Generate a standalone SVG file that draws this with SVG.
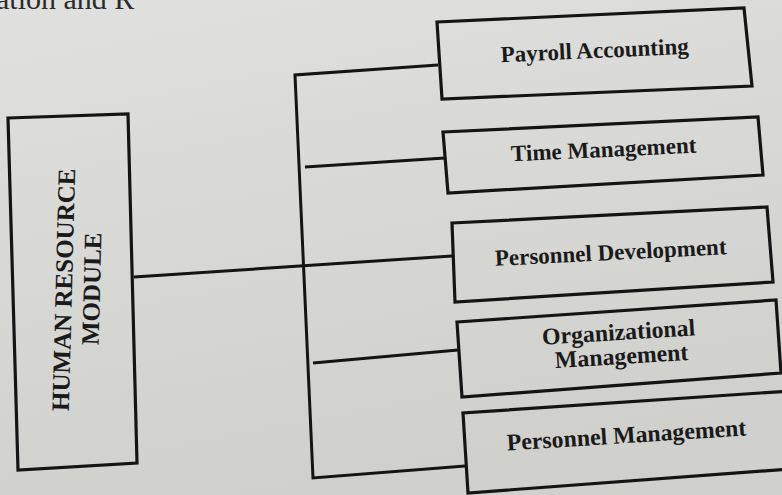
<svg xmlns="http://www.w3.org/2000/svg" width="782" height="495" viewBox="0 0 782 495">
  <defs>
    <linearGradient id="paper" x1="0" y1="0" x2="0.3" y2="1">
      <stop offset="0" stop-color="#e0e0de"/>
      <stop offset="1" stop-color="#d0d0cd"/>
    </linearGradient>
    <style>
      .box { fill: none; stroke: #141414; stroke-width: 3.2; stroke-linejoin: miter; }
      .link { fill: none; stroke: #141414; stroke-width: 3; stroke-linejoin: miter; }
      .label { font-family: "Liberation Serif", "Times New Roman", serif; font-weight: bold; font-size: 23px; fill: #1a1a1a; text-anchor: middle; }
      .main { font-size: 25px; }
      .wide { font-size: 23.8px; }
      .page { font-family: "Liberation Serif", "Times New Roman", serif; font-size: 30px; fill: #2a2a2a; }
    </style>
  </defs>

  <!-- paper -->
  <rect x="0" y="0" width="782" height="495" fill="url(#paper)"/>

  <!-- running text of the page above the figure -->
  <text class="page" x="-4" y="9">ation and R</text>

  <!-- connectors: trunk and branches -->
  <g id="connectors">
    <polyline class="link" points="438,65 295,75 313,478 465,466"/>
    <line class="link" x1="134" y1="277" x2="452" y2="256"/>
    <line class="link" x1="305" y1="167" x2="445" y2="158"/>
    <line class="link" x1="313" y1="363" x2="458" y2="350"/>
  </g>

  <!-- root node -->
  <g id="hr-module">
    <polygon class="box" points="8,118 128,114 137,463 18,470"/>
    <text class="label main" transform="translate(72,290) rotate(-88.5)">HUMAN RESOURCE</text>
    <text class="label main" transform="translate(100,289) rotate(-88.5)">MODULE</text>
  </g>

  <g id="payroll-accounting">
    <polygon class="box" points="437,22 744,8 752,86 442,99"/>
    <text class="label" transform="translate(595,58) rotate(-2.6)">Payroll Accounting</text>
  </g>

  <g id="time-management">
    <polygon class="box" points="443,132 758,117 763,175 448,193"/>
    <text class="label" transform="translate(604,157) rotate(-2.7)">Time Management</text>
  </g>

  <g id="personnel-development">
    <polygon class="box" points="452,223 767,207 773,282 455,302"/>
    <text class="label" transform="translate(611,260) rotate(-2.9)">Personnel Development</text>
  </g>

  <g id="organizational-management">
    <polygon class="box" points="457,322 776,300 781,373 462,397"/>
    <text class="label wide" transform="translate(619,340) rotate(-3.5)">Organizational</text>
    <text class="label wide" transform="translate(622,364) rotate(-3.5)">Management</text>
  </g>

  <g id="personnel-management">
    <polyline class="box" points="790,391 463,413 468,493 790,469"/>
    <text class="label wide" transform="translate(627,443) rotate(-3.6)">Personnel Management</text>
  </g>
</svg>
